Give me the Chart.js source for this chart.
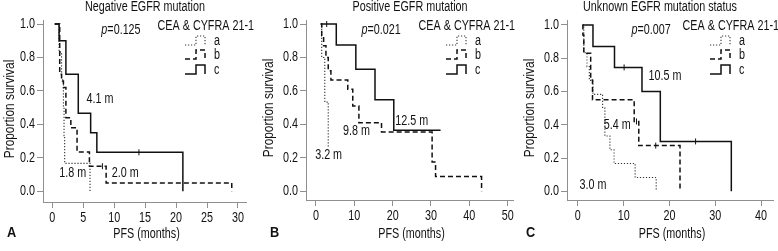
<!DOCTYPE html>
<html>
<head>
<meta charset="utf-8">
<title>PFS by EGFR mutation status</title>
<script src="https://cdn.jsdelivr.net/npm/chart.js@4.4.0/dist/chart.umd.min.js"></script>
<style>
    html, body { margin: 0; padding: 0; background: #fff; }
    #wrap { position: relative; width: 778px; height: 251px; overflow: hidden; }
    #wrap canvas { position: absolute; top: 0; }
</style>
</head>
<body>
<div id="wrap">
    <canvas id="chartA" width="260" height="251" style="left:0px"></canvas>
    <canvas id="chartB" width="258" height="251" style="left:260px"></canvas>
    <canvas id="chartC" width="260" height="251" style="left:518px"></canvas>
</div>
<script>
// Kaplan-Meier PFS curves, groups a / b / c (CEA & CYFRA 21-1)

const groupLabels = ['a', 'b', 'c'];
const yTicks = [0, 0.2, 0.4, 0.6, 0.8, 1.0];

// Negative EGFR mutation
const negXTicks = [0, 5, 10, 15, 20, 25, 30];
const negTimesA = [0.4, 1.1, 1.5, 1.8, 1.9, 2.0, 6.1];
const negSurvA  = [1.0, 0.833, 0.667, 0.5, 0.333, 0.167, 0];
const negTimesB = [0.4, 1.2, 1.5, 1.8, 2.2, 3.0, 4.0, 6.0, 8.7, 29.0];
const negSurvB  = [1.0, 0.70, 0.66, 0.62, 0.44, 0.38, 0.235, 0.15, 0.05, 0];
const negTimesC = [0.4, 1.1, 2.2, 4.2, 6.2, 7.2, 21.1];
const negSurvC  = [1.0, 0.9, 0.7, 0.467, 0.35, 0.233, 0];
const negCensorB = [8.1];
const negCensorC = [14.0];
const negMedians = ['4.1 m', '1.8 m', '2.0 m'];

// Positive EGFR mutation
const posXTicks = [0, 10, 20, 30, 40, 50];
const posTimesA = [1.2, 1.5, 2.3, 3.2];
const posSurvA  = [1.0, 0.8, 0.533, 0.267];
const posTimesB = [1.2, 1.5, 2.0, 2.6, 3.2, 3.9, 8.3, 9.6, 11.2, 17.1, 30.3, 31.2, 43.2];
const posSurvB  = [1.0, 0.93, 0.87, 0.80, 0.72, 0.665, 0.61, 0.51, 0.41, 0.355, 0.175, 0.088, 0];
const posTimesC = [1.3, 5.3, 10.4, 15.4, 20.3, 32.5];
const posSurvC  = [1.0, 0.875, 0.729, 0.547, 0.365, 0.365];
const posCensorB = [];
const posCensorC = [2.8];
const posMedians = ['12.5 m', '9.8 m', '3.2 m'];

// Unknown EGFR mutation status
const unkXTicks = [0, 10, 20, 30, 40];
const unkTimesA = [1.0, 1.3, 2.0, 2.5, 3.3, 5.4, 5.9, 7.0, 7.9, 12.5, 17.1];
const unkSurvA  = [1.0, 0.833, 0.75, 0.667, 0.583, 0.5, 0.333, 0.25, 0.167, 0.083, 0];
const unkTimesB = [1.0, 1.1, 1.3, 2.8, 3.2, 12.3, 13.3, 22.3];
const unkSurvB  = [1.0, 0.94, 0.83, 0.67, 0.55, 0.42, 0.275, 0];
const unkTimesC = [1.1, 3.3, 8.0, 14.0, 18.0, 33.5];
const unkSurvC  = [1.0, 0.87, 0.745, 0.6, 0.3, 0];
const unkCensorB = [12.8, 17.0];
const unkCensorC = [10.1, 25.7];
const unkMedians = ['10.5 m', '5.4 m', '3.0 m'];

// the figure uses a condensed face; squeeze Liberation Sans to get close
const TEXT_FONT = '14px "Liberation Sans", Arial, sans-serif';
const ITALIC_FONT = 'italic 14px "Liberation Sans", Arial, sans-serif';
const BOLD_FONT = 'bold 15px "Liberation Sans", Arial, sans-serif';
const NARROW = 0.77;
const INK = '#111';
const AXIS = '#8f8f8f';

// line look for a (dotted), b (dashed), c (solid)
const groupStyles = [
    { dash: [1.2, 1.8], width: 1.1, color: '#333' },
    { dash: [5, 3], width: 1.5, color: '#111' },
    { dash: [], width: 1.5, color: '#111' }
];

function toPoints(times, surv) {
    return times.map((t, i) => ({ x: t, y: surv[i] }));
}

// survival value of a step curve at time t
function survAt(times, surv, t) {
    let v = surv[0];
    for (let i = 0; i < times.length; i++) {
        if (times[i] <= t) v = surv[i];
    }
    return v;
}

function narrowText(ctx, text, x, y, align, font, squeeze, rotate) {
    ctx.save();
    ctx.font = font || TEXT_FONT;
    ctx.textAlign = align;
    ctx.textBaseline = 'middle';
    ctx.translate(x, y);
    if (rotate) ctx.rotate(-Math.PI / 2);
    ctx.scale(squeeze || NARROW, 1);
    ctx.fillText(text, 0, 0);
    ctx.restore();
}

function narrowWidth(ctx, text, font) {
    ctx.save();
    ctx.font = font;
    const w = ctx.measureText(text).width * NARROW;
    ctx.restore();
    return w;
}

const overlayPlugin = {
    id: 'overlay',
    afterDraw(chart, args, opts) {
        const ctx = chart.ctx;
        const xs = chart.scales.x, ys = chart.scales.y;
        const area = chart.chartArea;
        ctx.save();
        ctx.fillStyle = INK;

        // tick labels and axis titles, placed through the scales
        xs.ticks.forEach(t => narrowText(ctx, String(t.value), xs.getPixelForValue(t.value), area.bottom + 16, 'center'));
        ys.ticks.forEach(t => narrowText(ctx, t.value.toFixed(1), area.left - 8, ys.getPixelForValue(t.value), 'right'));
        narrowText(ctx, 'PFS (months)', (area.left + area.right) / 2 + 2, 234, 'center');
        narrowText(ctx, 'Proportion survival', opts.yTitleX, (area.top + area.bottom) / 2 - 2, 'center', TEXT_FONT, 0.85, true);

        // panel title
        narrowText(ctx, opts.title, opts.titleX, 7, 'center');

        // p value, italic p
        const px = xs.getPixelForValue(opts.pPos[0]);
        const py = ys.getPixelForValue(opts.pPos[1]);
        const w1 = narrowWidth(ctx, 'p', ITALIC_FONT);
        const w2 = narrowWidth(ctx, opts.pText, TEXT_FONT);
        const start = px - (w1 + w2) / 2;
        narrowText(ctx, 'p', start, py, 'left', ITALIC_FONT);
        narrowText(ctx, opts.pText, start + w1, py, 'left');

        // median labels
        opts.medians.forEach((m, i) => {
            narrowText(ctx, m, xs.getPixelForValue(opts.medianPos[i][0]), ys.getPixelForValue(opts.medianPos[i][1]), 'center');
        });

        // legend
        const r = opts.legendRight;
        narrowText(ctx, 'CEA & CYFRA 21-1', r, 26, 'right');
        const bottoms = [45, 59, 74];
        groupLabels.forEach((g, i) => {
            const st = groupStyles[i];
            const b = bottoms[i], t = b - 9, sx = r - 69;
            ctx.beginPath();
            ctx.setLineDash(st.dash);
            ctx.lineWidth = st.width;
            ctx.strokeStyle = st.color;
            ctx.moveTo(sx, b);
            ctx.lineTo(sx + 11, b);
            ctx.lineTo(sx + 11, t);
            ctx.lineTo(sx + 20, t);
            ctx.lineTo(sx + 20, b);
            ctx.stroke();
            ctx.setLineDash([]);
            narrowText(ctx, g, r - 40, b - 4, 'left');
        });

        // panel letter
        narrowText(ctx, opts.letter, opts.letterX, 233, 'left', BOLD_FONT, 0.85);
        ctx.restore();
    }
};

function makeKmChart(canvasId, cfg) {
    const datasets = [];
    cfg.curves.forEach((c, i) => {
        const st = groupStyles[i];
        datasets.push({
            label: groupLabels[i],
            data: toPoints(c.times, c.surv),
            stepped: 'before',
            borderColor: st.color,
            borderWidth: st.width,
            borderDash: st.dash,
            pointRadius: 0,
            fill: false,
            order: 3 - i
        });
        if (c.censor.length) {
            datasets.push({
                label: groupLabels[i] + ' censored',
                data: c.censor.map(t => ({ x: t, y: survAt(c.times, c.surv, t) })),
                showLine: false,
                pointStyle: 'line',
                rotation: 90,
                pointRadius: 3,
                borderColor: st.color,
                borderWidth: 1
            });
        }
    });

    return new Chart(document.getElementById(canvasId).getContext('2d'), {
        type: 'line',
        data: { datasets: datasets },
        plugins: [overlayPlugin],
        options: {
            responsive: false,
            animation: false,
            devicePixelRatio: 1,
            layout: { padding: cfg.padding },
            plugins: {
                legend: { display: false },
                tooltip: { enabled: false },
                overlay: cfg.overlay
            },
            scales: {
                x: {
                    type: 'linear',
                    min: cfg.xMin,
                    max: cfg.xMax,
                    afterBuildTicks: s => { s.ticks = cfg.xTicks.map(v => ({ value: v })); },
                    afterFit: s => { s.height = cfg.xAxisHeight; },
                    ticks: { display: false },
                    grid: { drawOnChartArea: false, drawTicks: true, tickLength: 6, color: AXIS },
                    border: { color: AXIS, width: 1 }
                },
                y: {
                    type: 'linear',
                    min: cfg.yMin,
                    max: cfg.yMax,
                    afterBuildTicks: s => { s.ticks = yTicks.map(v => ({ value: v })); },
                    afterFit: s => { s.width = cfg.yAxisWidth; },
                    ticks: { display: false },
                    grid: { drawOnChartArea: false, drawTicks: true, tickLength: 6, color: AXIS },
                    border: { color: AXIS, width: 1 }
                }
            }
        }
    });
}

makeKmChart('chartA', {
    curves: [
        { times: negTimesA, surv: negSurvA, censor: [] },
        { times: negTimesB, surv: negSurvB, censor: negCensorB },
        { times: negTimesC, surv: negSurvC, censor: negCensorC }
    ],
    xTicks: negXTicks, xMin: -1.5, xMax: 31.3, yMin: -0.064, yMax: 1.024,
    padding: { left: 0, right: 14, top: 20, bottom: 10 },
    xAxisHeight: 39, yAxisWidth: 43,
    overlay: {
        title: 'Negative EGFR mutation', titleX: 145, letter: 'A', letterX: 7, yTitleX: 10,
        pText: '=0.125', pPos: [11.1, 0.966],
        medians: negMedians, medianPos: [[7.7, 0.553], [3.3, 0.11], [11.8, 0.11]],
        legendRight: 254
    }
});

makeKmChart('chartB', {
    curves: [
        { times: posTimesA, surv: posSurvA, censor: [] },
        { times: posTimesB, surv: posSurvB, censor: posCensorB },
        { times: posTimesC, surv: posSurvC, censor: posCensorC }
    ],
    xTicks: posXTicks, xMin: -2.6, xMax: 51.4, yMin: -0.052, yMax: 1.024,
    padding: { left: 0, right: 5, top: 20, bottom: 10 },
    xAxisHeight: 41, yAxisWidth: 46,
    overlay: {
        title: 'Positive EGFR mutation', titleX: 150, letter: 'B', letterX: 10, yTitleX: 9,
        pText: '=0.021', pPos: [17.0, 0.966],
        medians: posMedians, medianPos: [[25.0, 0.42], [10.6, 0.36], [3.3, 0.215]],
        legendRight: 255
    }
});

makeKmChart('chartC', {
    curves: [
        { times: unkTimesA, surv: unkSurvA, censor: [] },
        { times: unkTimesB, surv: unkSurvB, censor: unkCensorB },
        { times: unkTimesC, surv: unkSurvC, censor: unkCensorC }
    ],
    xTicks: unkXTicks, xMin: -2.37, xMax: 42.6, yMin: -0.052, yMax: 1.03,
    padding: { left: 3, right: 2, top: 20, bottom: 8 },
    xAxisHeight: 43, yAxisWidth: 46,
    overlay: {
        title: 'Unknown EGFR mutation status', titleX: 142, letter: 'C', letterX: 8, yTitleX: 12,
        pText: '=0.007', pPos: [16.0, 0.97],
        medians: unkMedians, medianPos: [[19.0, 0.695], [8.6, 0.40], [3.3, 0.04]],
        legendRight: 261
    }
});
</script>
</body>
</html>
